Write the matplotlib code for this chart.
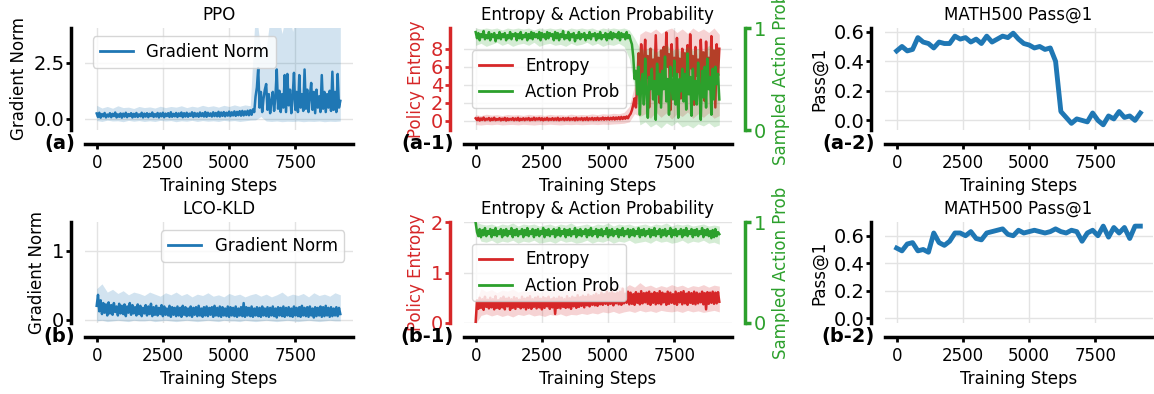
import matplotlib
matplotlib.use("Agg")
import matplotlib.pyplot as plt
import matplotlib.transforms as mtransforms
import numpy as np

# x positions: noisy training curves every 50 steps, bands / eval every 200 steps
steps = np.arange(0, 9201, 50)
eval_steps = np.arange(0, 9201, 200)

# ---- PPO ----
grad_ppo = [0.24, 0.08, 0.27, 0.05, 0.21, 0.11, 0.26, 0.06, 0.19, 0.10,
            0.25, 0.07, 0.22, 0.12, 0.28, 0.06, 0.20, 0.09, 0.24, 0.05,
            0.23, 0.10, 0.27, 0.07, 0.21, 0.12, 0.25, 0.06, 0.22, 0.09,
            0.26, 0.08, 0.20, 0.11, 0.27, 0.06, 0.23, 0.10, 0.25, 0.07,
            0.22, 0.12, 0.28, 0.08, 0.21, 0.10, 0.26, 0.06, 0.24, 0.11,
            0.27, 0.07, 0.23, 0.12, 0.25, 0.08, 0.29, 0.09, 0.22, 0.11,
            0.26, 0.08, 0.24, 0.12, 0.28, 0.07, 0.25, 0.10, 0.27, 0.09,
            0.23, 0.13, 0.29, 0.08, 0.26, 0.11, 0.24, 0.09, 0.28, 0.12,
            0.25, 0.10, 0.30, 0.09, 0.27, 0.13, 0.24, 0.10, 0.29, 0.12,
            0.26, 0.11, 0.31, 0.10, 0.28, 0.13, 0.30, 0.11, 0.27, 0.14,
            0.32, 0.12, 0.29, 0.15, 0.33, 0.13, 0.31, 0.16, 0.34, 0.14,
            0.35, 0.15, 0.33, 0.17, 0.36, 0.16, 0.38, 0.18, 0.42, 0.30,
            1.00, 1.40, 2.26, 0.50, 1.20, 0.30, 0.90, 1.30, 1.55, 0.40,
            1.10, 0.25, 0.80, 1.20, 0.35, 1.00, 2.20, 0.45, 1.25, 0.30,
            1.10, 0.50, 1.95, 0.30, 2.00, 0.60, 1.30, 0.25, 1.00, 2.05,
            0.40, 1.20, 0.30, 1.95, 0.50, 1.10, 0.35, 2.20, 0.45, 1.30,
            0.30, 1.00, 1.60, 0.40, 1.20, 0.25, 1.30, 0.50, 1.00, 0.30,
            1.95, 0.45, 1.20, 0.30, 1.10, 0.50, 1.25, 0.35, 2.10, 0.40,
            1.20, 0.30, 2.00, 0.50, 0.80]
grad_ppo_hi = [0.60, 0.48, 0.55, 0.47, 0.58, 0.50, 0.52, 0.46, 0.55, 0.50,
               0.53, 0.48, 0.56, 0.50, 0.55, 0.52, 0.58, 0.50, 0.56, 0.52,
               0.60, 0.54, 0.58, 0.52, 0.60, 0.55, 0.62, 0.56, 0.62, 0.58,
               5.0, 3.0, 3.1, 5.0, 5.0, 3.8, 5.0, 3.9, 5.0, 5.0,
               5.0, 5.0, 5.0, 5.0, 5.0, 5.0, 5.0]
grad_ppo_lo = [-0.08, -0.12, -0.06, -0.10, -0.09, -0.13, -0.07, -0.11, -0.08, -0.12,
               -0.09, -0.12, -0.07, -0.10, -0.08, -0.13, -0.09, -0.11, -0.07, -0.12,
               -0.08, -0.11, -0.09, -0.12, -0.07, -0.10, -0.08, -0.12, -0.09, -0.06,
               -0.05, 0.10, -0.10, -0.12, -0.10, -0.13, -0.11, -0.12, -0.10, -0.13,
               -0.11, -0.12, -0.10, -0.13, -0.11, -0.12, -0.10]

ent_ppo = [0.30, 0.10, 0.35, 0.05, 0.28, 0.12, 0.38, 0.08, 0.25, 0.15,
           0.33, 0.06, 0.27, 0.11, 0.36, 0.09, 0.22, 0.14, 0.31, 0.07,
           0.26, 0.12, 0.34, 0.05, 0.29, 0.10, 0.24, 0.13, 0.32, 0.08,
           0.27, 0.11, 0.35, 0.06, 0.25, 0.12, 0.30, 0.09, 0.28, 0.14,
           0.33, 0.08, 0.26, 0.12, 0.36, 0.10, 0.29, 0.15, 0.33, 0.11,
           0.30, 0.07, 0.27, 0.13, 0.34, 0.09, 0.25, 0.12, 0.31, 0.10,
           0.28, 0.11, 0.35, 0.08, 0.26, 0.14, 0.32, 0.09, 0.29, 0.12,
           0.34, 0.10, 0.27, 0.13, 0.31, 0.08, 0.36, 0.11, 0.28, 0.14,
           0.33, 0.09, 0.30, 0.12, 0.37, 0.10, 0.29, 0.15, 0.34, 0.11,
           0.31, 0.13, 0.36, 0.12, 0.30, 0.16, 0.38, 0.14, 0.33, 0.17,
           0.37, 0.15, 0.35, 0.18, 0.40, 0.16, 0.38, 0.20, 0.42, 0.19,
           0.45, 0.22, 0.44, 0.25, 0.50, 0.30, 0.60, 0.80, 1.20, 1.80,
           2.50, 1.50, 4.00, 7.50, 3.00, 8.50, 5.00, 6.50, 9.00, 4.80,
           7.20, 1.50, 8.00, 5.20, 6.80, 4.50, 9.50, 5.00, 7.00, 2.00,
           7.80, 5.50, 8.20, 4.60, 9.80, 6.00, 7.40, 1.20, 8.50, 5.00,
           7.00, 4.00, 9.20, 5.40, 6.90, 2.50, 8.00, 4.80, 7.50, 5.00,
           8.40, 4.50, 9.60, 5.80, 7.20, 1.80, 8.20, 5.00, 6.80, 3.50,
           9.00, 5.20, 7.60, 2.20, 8.80, 4.60, 7.00, 4.00, 9.40, 5.50,
           7.80, 1.50, 8.50, 5.00, 8.00]
ent_ppo_hi = [0.70, 0.60, 0.75, 0.65, 0.70, 0.60, 0.72, 0.66, 0.70, 0.62,
              0.74, 0.65, 0.70, 0.62, 0.73, 0.66, 0.70, 0.64, 0.76, 0.66,
              0.72, 0.68, 0.78, 0.70, 0.80, 0.75, 0.85, 0.80, 0.95, 1.60,
              4.00, 9.60, 10.0, 9.80, 10.2, 9.70, 10.1, 10.3, 9.80, 10.2,
              9.70, 10.3, 9.90, 10.2, 9.80, 10.3, 9.60]
ent_ppo_lo = [-0.40, -0.45, -0.38, -0.42, -0.36, -0.44, -0.40, -0.38, -0.43, -0.37,
              -0.41, -0.45, -0.39, -0.42, -0.36, -0.40, -0.44, -0.38, -0.41, -0.37,
              -0.42, -0.39, -0.36, -0.40, -0.35, -0.38, -0.33, -0.30, -0.25, -0.10,
              0.80, 0.50, 0.80, 0.30, 1.00, 0.40, 0.90, 0.20, 0.80, 0.50,
              1.00, 0.30, 0.80, 0.40, 0.90, 0.30, 0.60]

prob_ppo = [0.96, 0.90, 0.95, 0.88, 0.94, 0.91, 0.97, 0.89, 0.93, 0.90,
            0.96, 0.88, 0.94, 0.91, 0.95, 0.87, 0.93, 0.90, 0.96, 0.89,
            0.94, 0.91, 0.95, 0.88, 0.93, 0.90, 0.96, 0.89, 0.94, 0.92,
            0.95, 0.88, 0.94, 0.90, 0.96, 0.89, 0.93, 0.91, 0.95, 0.88,
            0.94, 0.90, 0.96, 0.89, 0.95, 0.91, 0.94, 0.90, 0.96, 0.88,
            0.95, 0.91, 0.94, 0.89, 0.96, 0.90, 0.95, 0.92, 0.94, 0.88,
            0.96, 0.90, 0.95, 0.88, 0.94, 0.91, 0.97, 0.89, 0.93, 0.90,
            0.96, 0.88, 0.94, 0.91, 0.95, 0.87, 0.93, 0.90, 0.96, 0.89,
            0.94, 0.91, 0.95, 0.88, 0.93, 0.90, 0.96, 0.89, 0.94, 0.92,
            0.95, 0.88, 0.94, 0.90, 0.96, 0.89, 0.93, 0.91, 0.95, 0.88,
            0.94, 0.90, 0.96, 0.89, 0.95, 0.91, 0.94, 0.90, 0.96, 0.88,
            0.95, 0.91, 0.94, 0.89, 0.96, 0.90, 0.93, 0.88, 0.84, 0.72,
            0.50, 0.58, 0.35, 0.62, 0.15, 0.45, 0.55, 0.25, 0.70, 0.38,
            0.12, 0.52, 0.40, 0.60, 0.30, 0.48, 0.10, 0.65, 0.35, 0.55,
            0.22, 0.58, 0.40, 0.72, 0.28, 0.50, 0.15, 0.62, 0.42, 0.30,
            0.68, 0.25, 0.55, 0.12, 0.50, 0.38, 0.60, 0.28, 0.55, 0.20,
            0.75, 0.35, 0.52, 0.14, 0.60, 0.30, 0.48, 0.25, 0.66, 0.40,
            0.10, 0.58, 0.32, 0.62, 0.22, 0.70, 0.40, 0.52, 0.15, 0.60,
            0.30, 0.62, 0.45, 0.55, 0.30]
prob_ppo_hi = [1.00, 0.99, 1.00, 0.99, 1.00, 0.98, 1.00, 0.99, 1.00, 0.99,
               1.00, 0.98, 1.00, 0.99, 1.00, 0.99, 1.00, 0.98, 1.00, 0.99,
               1.00, 0.99, 1.00, 0.98, 1.00, 0.99, 1.00, 0.99, 1.00, 0.98,
               0.90, 0.80, 0.78, 0.82, 0.76, 0.80, 0.84, 0.78, 0.80, 0.76,
               0.82, 0.78, 0.80, 0.77, 0.83, 0.79, 0.80]
prob_ppo_lo = [0.83, 0.85, 0.82, 0.84, 0.86, 0.83, 0.85, 0.82, 0.84, 0.85,
               0.83, 0.86, 0.82, 0.84, 0.85, 0.83, 0.84, 0.82, 0.85, 0.83,
               0.84, 0.86, 0.83, 0.85, 0.82, 0.84, 0.83, 0.85, 0.82, 0.70,
               0.40, 0.05, 0.08, 0.03, 0.06, 0.02, 0.07, 0.04, 0.08, 0.03,
               0.05, 0.02, 0.06, 0.04, 0.07, 0.03, 0.05]

pass_ppo = [0.47, 0.50, 0.47, 0.48, 0.56, 0.53, 0.52, 0.49, 0.53, 0.52,
            0.52, 0.57, 0.55, 0.56, 0.53, 0.55, 0.52, 0.57, 0.53, 0.55,
            0.57, 0.56, 0.59, 0.55, 0.52, 0.51, 0.49, 0.50, 0.48, 0.49,
            0.40, 0.06, 0.02, -0.02, 0.01, 0.00, -0.01, 0.05, 0.00, -0.03,
            0.03, 0.01, 0.06, 0.02, 0.03, 0.00, 0.05]

# ---- LCO-KLD ----
grad_lco = [0.20, 0.36, 0.12, 0.28, 0.08, 0.24, 0.10, 0.22, 0.06, 0.25,
            0.09, 0.21, 0.07, 0.24, 0.11, 0.19, 0.06, 0.23, 0.09, 0.20,
            0.08, 0.22, 0.05, 0.19, 0.10, 0.24, 0.07, 0.21, 0.09, 0.18,
            0.06, 0.22, 0.08, 0.20, 0.05, 0.17, 0.09, 0.21, 0.06, 0.19,
            0.08, 0.23, 0.05, 0.18, 0.07, 0.20, 0.06, 0.17, 0.08, 0.21,
            0.05, 0.19, 0.07, 0.16, 0.06, 0.20, 0.04, 0.18, 0.07, 0.17,
            0.05, 0.19, 0.06, 0.17, 0.04, 0.20, 0.07, 0.18, 0.05, 0.16,
            0.06, 0.19, 0.04, 0.17, 0.07, 0.18, 0.05, 0.20, 0.06, 0.16,
            0.04, 0.18, 0.06, 0.19, 0.05, 0.17, 0.07, 0.18, 0.04, 0.20,
            0.06, 0.17, 0.05, 0.19, 0.04, 0.18, 0.06, 0.16, 0.05, 0.19,
            0.04, 0.18, 0.06, 0.17, 0.05, 0.19, 0.04, 0.16, 0.06, 0.18,
            0.05, 0.24, 0.04, 0.18, 0.06, 0.17, 0.05, 0.19, 0.04, 0.16,
            0.06, 0.18, 0.05, 0.17, 0.04, 0.19, 0.06, 0.16, 0.05, 0.18,
            0.04, 0.17, 0.06, 0.19, 0.05, 0.16, 0.03, 0.18, 0.06, 0.17,
            0.05, 0.19, 0.04, 0.17, 0.06, 0.18, 0.05, 0.16, 0.04, 0.19,
            0.06, 0.17, 0.05, 0.18, 0.04, 0.20, 0.06, 0.17, 0.05, 0.18,
            0.04, 0.19, 0.06, 0.16, 0.03, 0.18, 0.05, 0.17, 0.06, 0.19,
            0.04, 0.18, 0.05, 0.20, 0.06, 0.17, 0.04, 0.18, 0.05, 0.16,
            0.06, 0.18, 0.05, 0.17, 0.08]
grad_lco_hi = [0.45, 0.52, 0.40, 0.44, 0.38, 0.42, 0.36, 0.40, 0.38, 0.35,
               0.40, 0.37, 0.34, 0.39, 0.36, 0.40, 0.35, 0.38, 0.33, 0.37,
               0.35, 0.39, 0.34, 0.36, 0.33, 0.38, 0.35, 0.37, 0.33, 0.36,
               0.38, 0.34, 0.37, 0.33, 0.36, 0.40, 0.34, 0.37, 0.35, 0.38,
               0.33, 0.39, 0.35, 0.37, 0.34, 0.39, 0.36]
grad_lco_lo = [-0.02, -0.01, -0.03, -0.02, -0.01, -0.02, -0.03, -0.01, -0.02, -0.02,
               -0.01, -0.03, -0.02, -0.01, -0.02, -0.03, -0.02, -0.01, -0.02, -0.03,
               -0.02, -0.01, -0.02, -0.03, -0.01, -0.02, -0.02, -0.03, -0.01, -0.02,
               -0.03, -0.02, -0.01, -0.02, -0.03, -0.02, -0.01, -0.02, -0.03, -0.02,
               -0.01, -0.02, -0.03, -0.02, -0.01, -0.02, -0.02]

ent_lco = [0.02, 0.45, 0.28, 0.50, 0.30, 0.47, 0.26, 0.52, 0.32, 0.46,
           0.29, 0.50, 0.31, 0.47, 0.27, 0.53, 0.30, 0.45, 0.28, 0.49,
           0.31, 0.52, 0.27, 0.48, 0.33, 0.50, 0.26, 0.47, 0.30, 0.51,
           0.28, 0.49, 0.32, 0.46, 0.29, 0.52, 0.31, 0.48, 0.27, 0.50,
           0.30, 0.53, 0.28, 0.47, 0.32, 0.50, 0.29, 0.52, 0.31, 0.48,
           0.27, 0.51, 0.30, 0.49, 0.33, 0.52, 0.28, 0.47, 0.31, 0.50,
           0.18, 0.48, 0.30, 0.52, 0.29, 0.50, 0.32, 0.47, 0.30, 0.53,
           0.31, 0.49, 0.28, 0.52, 0.33, 0.50, 0.30, 0.55, 0.32, 0.51,
           0.34, 0.54, 0.31, 0.52, 0.35, 0.56, 0.33, 0.53, 0.36, 0.55,
           0.35, 0.58, 0.34, 0.55, 0.37, 0.60, 0.36, 0.57, 0.38, 0.62,
           0.36, 0.59, 0.38, 0.61, 0.35, 0.58, 0.39, 0.60, 0.37, 0.62,
           0.36, 0.68, 0.39, 0.58, 0.40, 0.62, 0.37, 0.60, 0.38, 0.57,
           0.36, 0.61, 0.40, 0.58, 0.37, 0.63, 0.39, 0.59, 0.41, 0.60,
           0.38, 0.62, 0.36, 0.58, 0.40, 0.61, 0.37, 0.59, 0.39, 0.63,
           0.37, 0.60, 0.41, 0.58, 0.36, 0.62, 0.38, 0.60, 0.40, 0.57,
           0.38, 0.62, 0.36, 0.59, 0.41, 0.61, 0.37, 0.63, 0.39, 0.58,
           0.36, 0.61, 0.40, 0.59, 0.38, 0.62, 0.37, 0.60, 0.39, 0.58,
           0.41, 0.62, 0.37, 0.59, 0.27, 0.61, 0.38, 0.60, 0.40, 0.62,
           0.38, 0.60, 0.39, 0.61, 0.42]
ent_lco_hi = [0.40, 0.68, 0.62, 0.66, 0.60, 0.65, 0.63, 0.67, 0.61, 0.64,
              0.62, 0.66, 0.60, 0.65, 0.63, 0.67, 0.62, 0.66, 0.64, 0.68,
              0.65, 0.70, 0.66, 0.72, 0.68, 0.74, 0.70, 0.73, 0.69, 0.76,
              0.71, 0.80, 0.72, 0.75, 0.70, 0.74, 0.71, 0.76, 0.72, 0.75,
              0.70, 0.74, 0.72, 0.76, 0.71, 0.75, 0.73]
ent_lco_lo = [-0.02, 0.15, 0.18, 0.14, 0.17, 0.13, 0.16, 0.12, 0.17, 0.15,
              0.18, 0.14, 0.16, 0.13, 0.17, 0.15, 0.18, 0.14, 0.17, 0.16,
              0.19, 0.17, 0.20, 0.18, 0.22, 0.20, 0.23, 0.19, 0.22, 0.24,
              0.21, 0.25, 0.22, 0.24, 0.21, 0.25, 0.23, 0.22, 0.24, 0.21,
              0.25, 0.22, 0.24, 0.21, 0.23, 0.25, 0.22]

prob_lco = [0.99, 0.90, 0.86, 0.93, 0.85, 0.92, 0.87, 0.94, 0.86, 0.91,
            0.88, 0.93, 0.85, 0.92, 0.87, 0.94, 0.86, 0.91, 0.88, 0.93,
            0.85, 0.92, 0.87, 0.93, 0.86, 0.91, 0.88, 0.94, 0.85, 0.92,
            0.87, 0.93, 0.86, 0.91, 0.88, 0.93, 0.85, 0.92, 0.87, 0.94,
            0.86, 0.91, 0.88, 0.93, 0.85, 0.92, 0.87, 0.93, 0.86, 0.91,
            0.88, 0.94, 0.85, 0.92, 0.87, 0.93, 0.86, 0.91, 0.88, 0.93,
            0.85, 0.92, 0.87, 0.94, 0.86, 0.91, 0.88, 0.93, 0.85, 0.92,
            0.87, 0.93, 0.86, 0.91, 0.88, 0.94, 0.85, 0.92, 0.87, 0.93,
            0.86, 0.91, 0.88, 0.93, 0.85, 0.92, 0.87, 0.94, 0.86, 0.91,
            0.88, 0.93, 0.85, 0.92, 0.87, 0.93, 0.86, 0.91, 0.88, 0.94,
            0.85, 0.92, 0.87, 0.93, 0.86, 0.91, 0.88, 0.93, 0.85, 0.92,
            0.87, 0.94, 0.86, 0.91, 0.88, 0.93, 0.85, 0.92, 0.87, 0.93,
            0.86, 0.91, 0.88, 0.94, 0.85, 0.92, 0.87, 0.93, 0.86, 0.91,
            0.88, 0.93, 0.85, 0.92, 0.87, 0.94, 0.86, 0.91, 0.88, 0.93,
            0.85, 0.92, 0.87, 0.93, 0.86, 0.91, 0.88, 0.94, 0.85, 0.92,
            0.87, 0.93, 0.86, 0.91, 0.88, 0.93, 0.85, 0.92, 0.87, 0.94,
            0.86, 0.91, 0.88, 0.93, 0.85, 0.92, 0.87, 0.93, 0.86, 0.91,
            0.88, 0.94, 0.85, 0.92, 0.87, 0.93, 0.86, 0.91, 0.84, 0.92,
            0.85, 0.93, 0.86, 0.90, 0.88]
prob_lco_hi = [1.00, 0.98, 0.97, 0.98, 0.96, 0.98, 0.97, 0.99, 0.96, 0.98,
               0.97, 0.98, 0.96, 0.97, 0.98, 0.96, 0.98, 0.97, 0.99, 0.96,
               0.97, 0.98, 0.96, 0.98, 0.97, 0.99, 0.96, 0.98, 0.97, 0.98,
               0.96, 0.97, 0.98, 0.96, 0.98, 0.97, 0.99, 0.96, 0.98, 0.97,
               0.98, 0.96, 0.97, 0.98, 0.96, 0.97, 0.96]
prob_lco_lo = [0.92, 0.81, 0.80, 0.82, 0.79, 0.81, 0.80, 0.82, 0.79, 0.81,
               0.80, 0.82, 0.79, 0.80, 0.81, 0.79, 0.82, 0.80, 0.81, 0.79,
               0.80, 0.82, 0.79, 0.81, 0.80, 0.82, 0.79, 0.81, 0.80, 0.82,
               0.79, 0.80, 0.81, 0.79, 0.82, 0.80, 0.81, 0.79, 0.80, 0.82,
               0.79, 0.81, 0.80, 0.82, 0.79, 0.80, 0.78]

pass_lco = [0.51, 0.49, 0.54, 0.55, 0.49, 0.50, 0.48, 0.62, 0.55, 0.53,
            0.56, 0.62, 0.62, 0.60, 0.63, 0.58, 0.57, 0.62, 0.63, 0.64,
            0.65, 0.61, 0.60, 0.64, 0.62, 0.63, 0.64, 0.63, 0.62, 0.63,
            0.65, 0.63, 0.62, 0.64, 0.63, 0.56, 0.62, 0.64, 0.60, 0.67,
            0.59, 0.66, 0.62, 0.66, 0.58, 0.67, 0.67]

xticks = [0, 2500, 5000, 7500]

BLUE = "#1f77b4"
RED = "#d62728"
GREEN = "#2ca02c"
FS = 12
YFS = 14
SPINE_W = 2.5
NOISY_LW = 1.8

plt.rcParams["font.family"] = "DejaVu Sans"
plt.rcParams["font.size"] = FS

fig = plt.figure(figsize=(11.54, 3.94), dpi=100)
W, H = 1154.0, 394.0
col_left = [84.5, 463.5, 884.5]
col_w = 268.0
row_top = [28.0, 222.0]
row_h = [102.0, 101.0]

axes = {}
for r in range(2):
    for c in range(3):
        rect = [col_left[c] / W, 1 - (row_top[r] + row_h[r]) / H, col_w / W, row_h[r] / H]
        axes[(r, c)] = fig.add_axes(rect)


def style(ax, ycolor="black"):
    ax.spines["top"].set_visible(False)
    ax.spines["right"].set_visible(False)
    ax.spines["left"].set_position(("outward", 10))
    ax.spines["bottom"].set_position(("outward", 10))
    ax.spines["left"].set_linewidth(SPINE_W)
    ax.spines["bottom"].set_linewidth(SPINE_W)
    ax.spines["left"].set_color(ycolor)
    ax.grid(True, color="#e3e3e3", lw=1)
    ax.set_axisbelow(True)
    ax.tick_params(axis="x", width=2, length=3.5, labelsize=FS)
    ax.tick_params(axis="y", width=2, length=3.5, pad=1, labelsize=YFS, colors=ycolor)
    ax.set_xticks(xticks)
    ax.set_xlim(-460, 9660)
    ax.set_xlabel("Training Steps", fontsize=FS)


def panel_tag(ax, text):
    tr = mtransforms.offset_copy(ax.transAxes, fig=fig, x=-7, y=-10, units="points")
    ax.text(0, 0, text, transform=tr, ha="right", va="center",
            fontsize=14, fontweight="bold")


def twin_prob(ax):
    ax2 = ax.twinx()
    for s in ["left", "top", "bottom"]:
        ax2.spines[s].set_visible(False)
    ax2.spines["right"].set_position(("outward", 10))
    ax2.spines["right"].set_linewidth(SPINE_W)
    ax2.spines["right"].set_color(GREEN)
    ax2.tick_params(axis="y", colors=GREEN, width=SPINE_W, length=4, pad=2, labelsize=YFS)
    ax2.set_ylim(0, 1)
    ax2.set_yticks([0, 1])
    ax2.grid(False)
    ax2.set_ylabel("Sampled Action Prob", color=GREEN, fontsize=FS)
    return ax2


rows = [
    ("PPO", grad_ppo, grad_ppo_lo, grad_ppo_hi, ent_ppo, ent_ppo_lo, ent_ppo_hi,
     prob_ppo, prob_ppo_lo, prob_ppo_hi, pass_ppo, "a"),
    ("LCO-KLD", grad_lco, grad_lco_lo, grad_lco_hi, ent_lco, ent_lco_lo, ent_lco_hi,
     prob_lco, prob_lco_lo, prob_lco_hi, pass_lco, "b"),
]

for r, (name, g, glo, ghi, e, elo, ehi, p, plo, phi, acc, tag) in enumerate(rows):
    # gradient norm
    ax = axes[(r, 0)]
    style(ax)
    ax.fill_between(eval_steps, glo, ghi, color=BLUE, alpha=0.2, lw=0)
    ax.plot(steps, g, color=BLUE, lw=NOISY_LW, label="Gradient Norm")
    ax.set_title(name, fontsize=FS)
    ax.set_ylabel("Gradient Norm", fontsize=FS)
    if r == 0:
        ax.set_ylim(-0.5, 4.05)
        ax.set_yticks([0, 2.5])
        leg = ax.legend(loc="upper left", fontsize=FS)
    else:
        ax.set_ylim(-0.05, 1.42)
        ax.set_yticks([0, 1])
        leg = ax.legend(loc="upper right", fontsize=FS)
    for ln in leg.get_lines():
        ln.set_linewidth(2)
    panel_tag(ax, "(%s)" % tag)

    # entropy & action prob
    ax = axes[(r, 1)]
    style(ax, RED)
    ax.fill_between(eval_steps, elo, ehi, color=RED, alpha=0.2, lw=0)
    l1, = ax.plot(steps, e, color=RED, lw=NOISY_LW, label="Entropy")
    ax.set_ylabel("Policy Entropy", color=RED, fontsize=FS)
    ax.set_title("Entropy & Action Probability", fontsize=FS)
    if r == 0:
        ax.set_ylim(-1.0, 10.3)
        ax.set_yticks([0, 2, 4, 6, 8])
    else:
        ax.set_ylim(0, 2)
        ax.set_yticks([0, 1, 2])
    ax2 = twin_prob(ax)
    ax2.fill_between(eval_steps, plo, phi, color=GREEN, alpha=0.2, lw=0)
    l2, = ax2.plot(steps, p, color=GREEN, lw=NOISY_LW, label="Action Prob")
    leg = ax2.legend([l1, l2], ["Entropy", "Action Prob"], loc="center left", fontsize=FS)
    for ln in leg.get_lines():
        ln.set_linewidth(2)
    panel_tag(ax, "(%s-1)" % tag)

    # MATH500
    ax = axes[(r, 2)]
    style(ax)
    ax.plot(eval_steps, acc, color=BLUE, lw=3.5)
    ax.set_title("MATH500 Pass@1", fontsize=FS)
    ax.set_ylabel("Pass@1", fontsize=FS)
    ax.set_yticks([0, 0.2, 0.4, 0.6])
    if r == 0:
        ax.set_ylim(-0.065, 0.625)
    else:
        ax.set_ylim(-0.035, 0.70)
    panel_tag(ax, "(%s-2)" % tag)

fig.savefig("out.png", dpi=100)
